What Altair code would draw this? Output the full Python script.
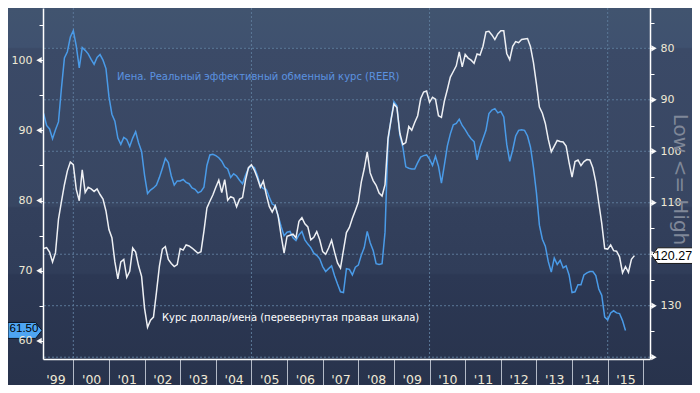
import altair as alt
import pandas as pd

# ---------------- data (monthly, starting March 1999) ----------------
START_YEAR = 1999
START_MONTH = 3

reer = [92.4, 90.7, 90.2, 88.8, 90.1, 91.2, 96.0, 100.3, 101.2, 103.3,
        104.2, 102.0, 98.9, 101.8, 101.4, 100.9, 100.1, 99.4, 100.4, 100.8,
        100.0, 98.8, 94.8, 92.3, 91.3, 88.9, 88.0, 89.0, 88.7, 87.7,
        88.9, 89.8, 88.2, 87.0, 83.6, 81.0, 81.5, 81.8, 82.2, 83.3,
        84.6, 86.0, 85.4, 83.5, 82.2, 82.8, 82.8, 83.0, 82.6, 82.4,
        81.8, 81.6, 81.1, 81.3, 81.9, 85.0, 86.5, 86.6, 86.4, 86.1,
        85.6, 84.8, 84.5, 83.3, 83.8, 83.5, 82.9, 82.4, 83.6, 84.6,
        84.9, 84.7, 83.6, 82.1, 81.7, 81.6, 80.5, 79.5, 79.3, 77.8,
        76.3, 75.0, 75.5, 75.6, 74.7, 74.3, 75.1, 75.6, 74.4, 73.8,
        73.3, 72.5, 72.2, 71.7, 70.6, 69.9, 70.3, 70.7, 69.3, 68.1,
        67.0, 66.9, 70.3, 70.2, 69.4, 70.5, 70.8, 72.2, 73.3, 75.6,
        74.0, 72.9, 71.0, 70.9, 71.0, 75.5, 88.5, 91.5, 94.1, 93.5,
        89.3, 87.6, 84.8, 84.6, 84.5, 84.5, 85.4, 86.2, 86.4, 86.5,
        85.9, 85.0, 86.3, 84.9, 82.5, 85.1, 87.8, 89.5, 90.8, 91.0,
        91.6, 90.7, 90.1, 89.4, 88.8, 88.4, 85.8, 87.6, 88.8, 90.0,
        92.4, 92.9, 93.1, 92.5, 92.7, 91.9, 88.0, 85.6, 87.2, 89.2,
        90.0, 90.1, 90.0, 89.2, 87.6, 84.7, 81.1, 76.5, 74.5, 73.5,
        71.3, 69.8, 71.8, 70.9, 71.5, 70.4, 70.7, 69.4, 66.9, 67.0,
        68.0, 68.0, 69.4, 69.7, 69.9, 69.9, 69.3, 67.4, 66.5, 63.4,
        63.0, 64.0, 64.3, 64.0, 63.9, 62.9, 61.5]

usdjpy = [118.9, 118.7, 119.6, 121.5, 119.7, 113.2, 109.8, 106.5, 103.8, 102.1,
          102.6, 107.4, 109.6, 103.6, 108.0, 107.0, 107.3, 107.8, 107.3, 108.4,
          109.3, 111.6, 115.2, 116.8, 121.5, 124.8, 121.5, 121.0, 124.5, 123.3,
          118.8, 119.6, 122.3, 124.3, 130.5, 134.2, 132.8, 132.2, 127.4, 122.3,
          119.0, 118.5, 121.0, 121.8, 122.4, 122.0, 118.9, 119.2, 118.2, 118.4,
          118.8, 119.3, 119.8, 119.5, 115.5, 111.0, 109.7, 108.5, 107.0, 105.6,
          108.0, 105.5, 109.5, 108.8, 109.1, 110.8, 109.3, 109.0, 105.6, 103.2,
          102.6, 103.7, 105.2, 107.0, 105.8, 108.4, 110.7, 111.8, 110.6, 112.6,
          116.4, 119.8, 116.5, 116.3, 116.1, 116.8, 113.6, 112.9, 114.1, 114.7,
          117.2, 116.7, 115.6, 117.2, 119.5, 120.0, 118.8, 117.3, 119.6, 121.7,
          122.7, 119.2, 115.8, 114.8, 113.0, 111.5, 109.9, 106.0, 103.4, 100.1,
          104.2, 105.7, 106.6, 108.1, 108.7, 106.5, 97.5, 94.0, 90.8, 91.5,
          96.5, 98.7, 98.3, 95.2, 95.9, 94.4, 93.1, 89.8, 88.5, 88.3,
          90.5, 89.5, 89.9, 93.1, 93.4, 90.2, 88.0, 85.6, 84.5, 83.4,
          80.7, 83.6, 81.2, 81.9, 82.3, 82.9, 81.1, 81.3, 79.6, 76.8,
          76.7, 77.4, 78.3, 77.2, 76.6, 76.6, 81.0, 82.2, 79.6, 78.7,
          78.9, 78.3, 78.2, 78.1, 79.7, 82.8, 86.9, 91.4, 92.6, 94.6,
          97.7, 100.1, 99.0, 97.9, 98.1, 98.2, 99.0, 102.2, 105.0, 102.0,
          101.7, 102.8, 102.0, 101.6, 101.7, 103.2, 106.0, 110.0, 114.0, 118.9,
          119.0, 118.2, 119.3, 119.4, 120.5, 123.6, 122.4, 123.5, 121.0, 120.27]

YEAR_BOUNDS = list(range(2000, 2017))
YEAR_LABELS = [y + 0.5 for y in range(1999, 2016)]
VGRID_YEARS = [2000, 2005, 2010, 2015]
LEFT_TICKS = [60, 65, 70, 75, 80, 85, 90, 95, 100, 105]
LEFT_MAJOR = [60, 70, 80, 90, 100]
RIGHT_TICKS = [75, 80, 85, 90, 95, 100, 105, 110, 115, 120, 125, 130, 135, 140]
RIGHT_MAJOR = [80, 90, 100, 110, 120, 130, 140]

LABEL_REER = "Иена. Реальный эффективный обменный курс (REER)"
LABEL_JPY = "Курс доллар/иена (перевернутая правая шкала)"
RIGHT_TITLE = "Low <= High"

# ---------------- tables ----------------
def month_years(n):
    return [START_YEAR + (START_MONTH - 1 + i) / 12 for i in range(n)]

df_reer = pd.DataFrame({"year": month_years(len(reer)), "v": reer})
df_jpy = pd.DataFrame({"year": month_years(len(usdjpy)), "v": usdjpy})
df_lmaj = pd.DataFrame({"v": LEFT_MAJOR})
df_rmaj = pd.DataFrame({"v": RIGHT_MAJOR})
df_rgrid = pd.DataFrame({"v": RIGHT_MAJOR})
df_vgrid = pd.DataFrame({"year": VGRID_YEARS})
df_ltag = pd.DataFrame({"v": [reer[-1]], "t": [f"{reer[-1]:.2f}"]})
df_rtag = pd.DataFrame({"v": [usdjpy[-1]], "t": [f"{usdjpy[-1]:.2f}"]})
one = pd.DataFrame({"a": [0]})

W, H = 607, 351
FONT = "DejaVu Sans"
TAGFONT = "Liberation Sans"
LABEL_COL = "#efe9d6"
BLUE = "#4a9be8"
WHITE = "#eef0f4"
GRID = "#5b7898"

xscale = alt.Scale(domain=[1999.149, 2016.188], nice=False, zero=False)
L_DOM = [57.43, 107.43]
R_DOM = [72.17, 140.35]


def lsc():
    return alt.Scale(domain=L_DOM, nice=False, zero=False)


def rsc():
    return alt.Scale(domain=R_DOM, nice=False, zero=False, reverse=True)


# ---------------- background ----------------
grad = alt.LinearGradient(
    gradient="linear", x1=0, x2=0, y1=0, y2=1,
    stops=[
        alt.GradientStop(color="#41546f", offset=0),
        alt.GradientStop(color="#3f516f", offset=0.104),
        alt.GradientStop(color="#3b4a67", offset=0.108),
        alt.GradientStop(color="#384662", offset=0.525),
        alt.GradientStop(color="#33405c", offset=0.53),
        alt.GradientStop(color="#303d59", offset=0.703),
        alt.GradientStop(color="#2c3854", offset=0.708),
        alt.GradientStop(color="#28334c", offset=1),
    ],
)
bg = alt.Chart(one).mark_rect(fill=grad).encode(
    x=alt.value(-35), x2=alt.value(W + 42), y=alt.value(0), y2=alt.value(H + 26)
)

# vertical dotted grid + year separator axis
vgrid = alt.Chart(df_vgrid).mark_rule(color=GRID, strokeDash=[2, 2], strokeWidth=1).encode(
    x=alt.X("year:Q", scale=xscale,
            axis=alt.Axis(orient="bottom", values=YEAR_BOUNDS, labels=False, ticks=True,
                          tickSize=26, tickColor="#b3bac7", tickWidth=1, domain=True,
                          domainColor="#ffffff", domainWidth=1.5, grid=False, title=None,
                          zindex=1))
)

# horizontal dotted grid (right scale)
hgrid = alt.Chart(df_rgrid).mark_rule(color=GRID, strokeDash=[2, 2], strokeWidth=1).encode(
    y=alt.Y("v:Q", scale=rsc(), axis=None)
)

blue_line = alt.Chart(df_reer).mark_line(color=BLUE, strokeWidth=1.5).encode(
    x=alt.X("year:Q", scale=xscale,
            axis=alt.Axis(orient="bottom", values=YEAR_LABELS, ticks=False, tickSize=0,
                          domain=False, grid=False, title=None, labelPadding=14,
                          labelFontSize=12.5, labelColor=LABEL_COL, labelFont=FONT,
                          labelFlush=False, labelOverlap=False,
                          labelExpr="\"'\" + substring(toString(floor(datum.value)), 2)",
                          zindex=1)),
    y=alt.Y("v:Q", scale=lsc(),
            axis=alt.Axis(orient="left", values=LEFT_TICKS, tickSize=4, tickColor="#ffffff",
                          domain=True, domainColor="#ffffff", domainWidth=1.5, grid=False,
                          title=None, labelPadding=7, labelFontSize=11,
                          labelColor=LABEL_COL, labelFont=FONT, labelFlush=False,
                          labelExpr="datum.value % 10 == 0 ? datum.label : ''", zindex=1)),
)

white_line = alt.Chart(df_jpy).mark_line(color=WHITE, strokeWidth=1.5).encode(
    x=alt.X("year:Q", scale=xscale, axis=None),
    y=alt.Y("v:Q", scale=rsc(),
            axis=alt.Axis(orient="right", values=RIGHT_TICKS, tickSize=4, tickColor="#ffffff",
                          domain=True, domainColor="#ffffff", domainWidth=1.5, grid=False,
                          title=RIGHT_TITLE, titleColor="#7f8798", titleFont=FONT,
                          titleFontSize=20, titleFontWeight="normal", titleAngle=90,
                          titleX=29, titleY=171, titleAlign="center",
                          titleBaseline="middle",
                          labelPadding=6, labelFontSize=11, labelColor=LABEL_COL,
                          labelFont=FONT, labelFlush=False,
                          labelExpr="(datum.value % 10 == 0 && datum.value != 120 && datum.value != 140) ? datum.label : ''",
                          zindex=1)),
)

l_tri = alt.Chart(df_lmaj).mark_point(shape="triangle-left", filled=True, fill="#f4f4f4",
                                      size=40, opacity=1).encode(
    x=alt.value(-4), y=alt.Y("v:Q", scale=lsc(), axis=None)
)
r_tri = alt.Chart(df_rmaj).mark_point(shape="triangle-right", filled=True, fill="#f4f4f4",
                                      size=40, opacity=1).encode(
    x=alt.value(W + 4), y=alt.Y("v:Q", scale=rsc(), axis=None)
)

l_tag = alt.Chart(df_ltag).mark_point(
    shape="M-1,-0.47L0.62,-0.47L1,0L0.62,0.47L-1,0.47Z", filled=True, fill="#4ea5f2",
    stroke="#0d1522", strokeWidth=1, size=1156, opacity=1
).encode(x=alt.value(-18), y=alt.Y("v:Q", scale=lsc(), axis=None))
l_tag_t = alt.Chart(df_ltag).mark_text(font=TAGFONT, fontSize=11.5, color="#000000",
                                       align="center", baseline="middle", dy=-1.5).encode(
    x=alt.value(-19), y=alt.Y("v:Q", scale=lsc(), axis=None), text="t:N"
)

r_tag = alt.Chart(df_rtag).mark_point(
    shape="M-1,0L-0.8,-0.28L1,-0.28L1,0.28L-0.8,0.28Z", filled=True, fill="#ffffff",
    stroke="#1a1a1a", strokeWidth=1, size=3136, opacity=1
).encode(x=alt.value(W + 30), y=alt.Y("v:Q", scale=rsc(), axis=None))
r_tag_t = alt.Chart(df_rtag).mark_text(font=TAGFONT, fontSize=12.5, color="#000000",
                                       align="center", baseline="middle").encode(
    x=alt.value(W + 23), y=alt.Y("v:Q", scale=rsc(), axis=None), text="t:N"
)

# ---------------- annotations ----------------
ann_reer = alt.Chart(one).mark_text(font=FONT, fontSize=10, color="#5b93e0", align="left",
                                    baseline="middle").encode(
    x=alt.value(74), y=alt.value(68.5), text=alt.value(LABEL_REER))
ann_jpy = alt.Chart(one).mark_text(font=FONT, fontSize=10, color="#ffffff", align="left",
                                   baseline="middle").encode(
    x=alt.value(119), y=alt.value(310), text=alt.value(LABEL_JPY))

chart = alt.layer(
    bg, vgrid, hgrid, blue_line, white_line, l_tri, r_tri,
    l_tag, l_tag_t, r_tag, r_tag_t, ann_reer, ann_jpy
).resolve_scale(
    y="independent"
).resolve_axis(
    x="independent", y="independent"
).properties(
    width=W, height=H,
    autosize=alt.AutoSizeParams(type="none"),
    padding={"left": 35, "top": 0, "right": 42, "bottom": 26},
    background="#2f3b56",
).configure_view(stroke=None)

chart.save("out.html", embed_options={"renderer": "svg", "actions": False})
